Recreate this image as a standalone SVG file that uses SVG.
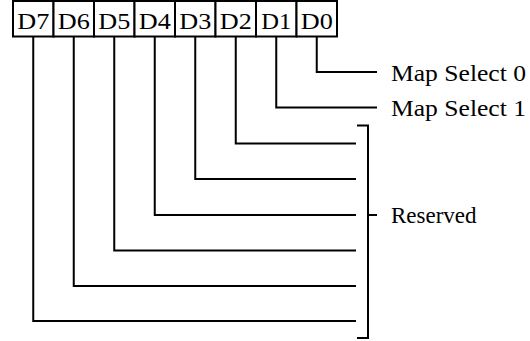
<svg xmlns="http://www.w3.org/2000/svg" width="530" height="341" viewBox="0 0 530 341">
<style>
.bx{fill:#fff;stroke:#000;stroke-width:2}
.ln{fill:none;stroke:#000;stroke-width:2}
.t{font-family:"Liberation Serif","Times New Roman",serif;font-size:22.5px;fill:#000}
.d{font-size:24px;text-anchor:middle}
</style>
<rect width="530" height="341" fill="#fff"/>
<g id="register">
<g id="D7"><rect class="bx" x="13" y="1" width="40.5" height="35.5"/><text class="t d" x="33.25" y="29.3" textLength="32" lengthAdjust="spacingAndGlyphs">D7</text></g>
<g id="D6"><rect class="bx" x="53.5" y="1" width="40.5" height="35.5"/><text class="t d" x="73.75" y="29.3" textLength="32" lengthAdjust="spacingAndGlyphs">D6</text></g>
<g id="D5"><rect class="bx" x="94" y="1" width="40.5" height="35.5"/><text class="t d" x="114.25" y="29.3" textLength="32" lengthAdjust="spacingAndGlyphs">D5</text></g>
<g id="D4"><rect class="bx" x="134.5" y="1" width="40.5" height="35.5"/><text class="t d" x="154.75" y="29.3" textLength="32" lengthAdjust="spacingAndGlyphs">D4</text></g>
<g id="D3"><rect class="bx" x="175" y="1" width="40.5" height="35.5"/><text class="t d" x="195.25" y="29.3" textLength="32" lengthAdjust="spacingAndGlyphs">D3</text></g>
<g id="D2"><rect class="bx" x="215.5" y="1" width="40.5" height="35.5"/><text class="t d" x="235.75" y="29.3" textLength="32" lengthAdjust="spacingAndGlyphs">D2</text></g>
<g id="D1"><rect class="bx" x="256" y="1" width="40.5" height="35.5"/><text class="t d" x="276.25" y="29.3" textLength="30" lengthAdjust="spacingAndGlyphs">D1</text></g>
<g id="D0"><rect class="bx" x="296.5" y="1" width="40.5" height="35.5"/><text class="t d" x="316.75" y="29.3" textLength="32" lengthAdjust="spacingAndGlyphs">D0</text></g>
</g>
<g id="connectors">
<polyline class="ln" points="316.75,36.5 316.75,72 377,72"/>
<polyline class="ln" points="276.25,36.5 276.25,107.5 377,107.5"/>
<polyline class="ln" points="235.75,36.5 235.75,143.5 356,143.5"/>
<polyline class="ln" points="195.25,36.5 195.25,179 356,179"/>
<polyline class="ln" points="154.75,36.5 154.75,215 356,215"/>
<polyline class="ln" points="114.25,36.5 114.25,250.5 356,250.5"/>
<polyline class="ln" points="73.75,36.5 73.75,286 356,286"/>
<polyline class="ln" points="33.25,36.5 33.25,321 356,321"/>
<polyline class="ln" points="357,125.5 368,125.5 368,338 357,338"/>
<line class="ln" x1="368" y1="215" x2="377" y2="215"/>
</g>
<g id="labels">
<text class="t" x="391" y="80.5" textLength="135" lengthAdjust="spacingAndGlyphs">Map Select 0</text>
<text class="t" x="391" y="116" textLength="135" lengthAdjust="spacingAndGlyphs">Map Select 1</text>
<text class="t" x="391" y="222.5" textLength="85.5" lengthAdjust="spacingAndGlyphs">Reserved</text>
</g>
</svg>
